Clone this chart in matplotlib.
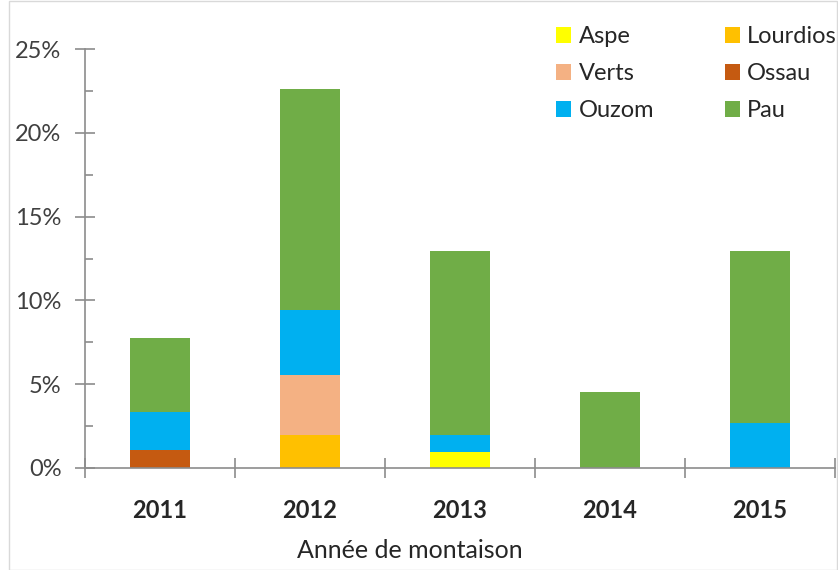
import matplotlib
matplotlib.use("Agg")
import matplotlib.pyplot as plt
from matplotlib.patches import Rectangle
from matplotlib.ticker import FixedLocator, FuncFormatter, NullFormatter
import numpy as np

plt.rcParams["font.family"] = ["Lato", "DejaVu Sans"]

years = ["2011", "2012", "2013", "2014", "2015"]
series = ["Aspe", "Lourdios", "Verts", "Ossau", "Ouzom", "Pau"]
colors = ["#FFFF00", "#FFC000", "#F4B183", "#C55A11", "#00B0F0", "#70AD47"]

# pourcentages (empiles dans l'ordre des series)
aspe = [0.0, 0.0, 0.98, 0.0, 0.0]
lourdios = [0.0, 1.97, 0.0, 0.0, 0.0]
verts = [0.0, 3.58, 0.0, 0.0, 0.0]
ossau = [1.07, 0.0, 0.0, 0.0, 0.0]
ouzom = [2.29, 3.88, 0.99, 0.0, 2.66]
pau = [4.38, 13.17, 11.0, 4.55, 10.31]
values = [aspe, lourdios, verts, ossau, ouzom, pau]

W, H = 838, 570
fig = plt.figure(figsize=(W / 100, H / 100), dpi=100)
ax = fig.add_axes([85 / W, 102 / H, 750 / W, 419 / H])

x = np.arange(len(years))
bottom = np.zeros(len(years))
handles = {}
for name, col, vals in zip(series, colors, values):
    vals = np.array(vals)
    b = ax.bar(x, vals, 0.4, bottom=bottom, color=col, label=name, zorder=2)
    handles[name] = b
    bottom += vals

ax.set_xlim(-0.5, len(years) - 0.5)
ax.set_ylim(0, 25)

grey = "#8c8c8c"
for s in ["top", "right"]:
    ax.spines[s].set_visible(False)
for s in ["left", "bottom"]:
    ax.spines[s].set_color(grey)
    ax.spines[s].set_linewidth(1.2)

ax.yaxis.set_major_locator(FixedLocator([0, 5, 10, 15, 20, 25]))
ax.yaxis.set_minor_locator(FixedLocator([2.5, 7.5, 12.5, 17.5, 22.5]))
ax.yaxis.set_major_formatter(FuncFormatter(lambda v, p: "%d%%" % v))
ax.tick_params(axis="y", which="major", direction="inout", length=14,
               color=grey, width=1.2, labelsize=17, labelcolor="#404040", pad=10)
ax.tick_params(axis="y", which="minor", direction="in", length=6,
               color=grey, width=1.2)

ax.xaxis.set_major_locator(FixedLocator(np.arange(-0.5, len(years), 1.0)))
ax.xaxis.set_major_formatter(NullFormatter())
ax.xaxis.set_minor_locator(FixedLocator(x))
ax.xaxis.set_minor_formatter(FuncFormatter(lambda v, p: years[int(round(v))]))
ax.tick_params(axis="x", which="major", direction="inout", length=14,
               color=grey, width=1.2)
ax.tick_params(axis="x", which="minor", length=0, labelsize=17, pad=22,
               labelcolor="#262626")
for t in ax.xaxis.get_minorticklabels():
    t.set_fontweight("bold")

fig.text(410 / W, 1 - 550 / H, "Année de montaison", ha="center", va="center",
         fontsize=18, color="#262626")

order = ["Aspe", "Verts", "Ouzom", "Lourdios", "Ossau", "Pau"]
leg = ax.legend([handles[n] for n in order], order, ncol=2, frameon=False,
                loc="upper left", bbox_to_anchor=((556 - 85) / 750, 1.055),
                borderpad=0, borderaxespad=0,
                fontsize=17, handlelength=0.65, handleheight=0.65,
                handletextpad=0.3, columnspacing=3.0, labelspacing=0.68)
for t in leg.get_texts():
    t.set_color("#262626")

fig.patches.append(Rectangle((9 / W, 0), 1 - 10 / W, 1 - 1 / H,
                             transform=fig.transFigure, fill=False,
                             edgecolor="#d9d9d9", linewidth=1))

fig.savefig("out.png", dpi=100, facecolor="white")
